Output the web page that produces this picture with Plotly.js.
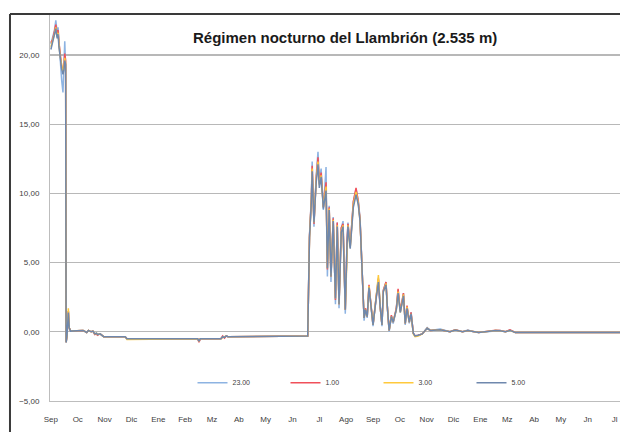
<!DOCTYPE html>
<html>
<head>
<meta charset="utf-8">
<script src="https://cdn.plot.ly/plotly-3.0.1.min.js"></script>
<style>html,body{margin:0;padding:0;background:#fff;}#chart{width:620px;height:432px;}</style>
</head>
<body>
<div id="chart"></div>
<script>
// Day index from 1 September (first season)
const days = [
  0, 2, 4, 5.5, 7, 8, 9, 10, 11, 12,
  13.5, 14.5, 15.5, 16.5, 17, 18, 19.5, 20.5, 22, 28,
  36, 40, 42, 45, 47, 49, 51, 52, 55, 59,
  83, 85, 164, 165.5, 167, 190, 192, 194, 196, 198,
  287, 289, 291, 292, 294, 296.5, 298.5, 300, 302, 304.5,
  307.5, 309, 311, 313, 315.5, 318, 320, 322, 324.5, 326.5,
  329, 331, 332, 334.5, 336.5, 338, 341, 343.5, 345.5, 349,
  350, 351.5, 353.5, 355.5, 358, 360, 363.5, 366, 368, 370,
  371.5, 374.5, 376, 378, 380.5, 382.5, 386, 388, 390.5, 392.5,
  394, 396, 398, 400.5, 402.5, 405, 407, 410.5, 415, 420.5,
  424, 435, 446, 452, 460, 466, 472, 478, 497, 502,
  508, 513, 519, 636
];

const t2300 = [
  20.8, 21.3, 21.8, 22.5, 21.6, 22.0, 20.8, 19.9, 19.2, 18.2,
  17.3, 19.5, 21.0, 19.0, -0.8, -0.4, 1.5, 0.3, 0.05, 0.08,
  0.1, -0.05, 0.1, 0.0, 0.05, -0.15, -0.1, -0.2, -0.15, -0.35,
  -0.35, -0.5, -0.5, -0.7, -0.5, -0.5, -0.35, -0.4, -0.3, -0.35,
  -0.3, 7.0, 9.6, 12.3, 7.6, 11.3, 13.0, 10.9, 11.8, 8.8,
  11.9, 4.0, 9.1, 3.6, 8.3, 2.0, 7.9, 1.7, 7.5, 8.0,
  1.3, 6.6, 7.9, 6.1, 8.3, 9.4, 10.3, 9.5, 8.2, 2.0,
  0.8, 1.6, 1.0, 3.3, 1.5, 0.4, 2.5, 3.9, 1.8, 0.4,
  3.0, 3.6, 1.8, 0.0, 1.1, 0.6, 1.6, 3.0, 1.4, 2.1,
  2.8, 0.5, 1.8, 0.6, 1.4, -0.1, -0.3, -0.25, -0.15, 0.3,
  0.1, 0.2, 0.0, 0.15, 0.0, 0.12, 0.0, -0.05, 0.1, 0.1,
  0.0, 0.12, -0.05, -0.05
];

const t0100 = [
  20.9, 21.1, 21.7, 22.2, 21.5, 21.8, 20.9, 20.3, 19.8, 19.2,
  18.9, 19.2, 20.1, 19.6, -0.75, -0.3, 1.5, 0.3, 0.05, 0.08,
  0.1, -0.05, 0.1, 0.0, 0.05, -0.2, -0.15, -0.25, -0.15, -0.35,
  -0.35, -0.5, -0.5, -0.75, -0.5, -0.5, -0.3, -0.45, -0.3, -0.35,
  -0.3, 6.9, 9.5, 12.0, 7.8, 11.1, 12.6, 10.7, 11.5, 9.0,
  10.8, 4.5, 9.0, 4.0, 8.2, 2.3, 7.9, 2.0, 7.5, 7.8,
  1.6, 6.6, 7.8, 6.2, 8.3, 9.4, 10.4, 9.4, 8.1, 2.2,
  1.0, 1.7, 1.1, 3.4, 1.6, 0.5, 2.5, 3.8, 1.8, 0.5,
  3.0, 3.6, 1.8, 0.1, 1.2, 0.7, 1.7, 3.1, 1.5, 2.1,
  2.8, 0.6, 1.9, 0.7, 1.4, -0.1, -0.3, -0.25, -0.15, 0.25,
  0.1, 0.15, 0.0, 0.15, 0.0, 0.1, 0.0, -0.05, 0.12, 0.1,
  0.0, 0.15, -0.05, -0.05
];

const t0300 = [
  20.6, 21.0, 21.5, 22.0, 21.3, 21.6, 20.7, 20.1, 19.7, 19.1,
  18.7, 19.0, 19.8, 19.4, -0.75, -0.3, 1.7, 0.3, 0.05, 0.08,
  0.1, -0.05, 0.1, 0.0, 0.05, -0.15, -0.1, -0.2, -0.15, -0.35,
  -0.35, -0.55, -0.5, -0.65, -0.5, -0.5, -0.4, -0.35, -0.3, -0.35,
  -0.3, 6.8, 9.4, 11.8, 7.9, 11.0, 12.3, 10.6, 11.3, 9.0,
  10.5, 4.6, 8.9, 4.0, 8.1, 2.4, 7.7, 2.0, 7.3, 7.7,
  1.6, 6.5, 7.7, 6.1, 8.1, 9.2, 10.1, 9.3, 8.0, 2.2,
  1.0, 1.6, 1.1, 3.3, 1.6, 0.5, 2.5, 4.1, 1.8, 0.5,
  2.9, 3.5, 1.8, 0.1, 1.1, 0.7, 1.6, 2.9, 1.4, 2.0,
  2.7, 0.6, 1.8, 0.7, 1.3, -0.15, -0.35, -0.3, -0.15, 0.25,
  0.1, 0.15, 0.0, 0.12, 0.0, 0.1, 0.0, -0.05, 0.1, 0.08,
  0.0, 0.1, -0.05, -0.05
];

const t0500 = [
  20.4, 20.9, 21.4, 21.9, 21.2, 21.5, 20.6, 20.0, 19.6, 19.0,
  18.6, 18.9, 19.6, 19.3, -0.75, -0.3, 1.4, 0.3, 0.05, 0.08,
  0.1, -0.05, 0.1, 0.0, 0.05, -0.15, -0.1, -0.2, -0.15, -0.35,
  -0.35, -0.5, -0.5, -0.65, -0.5, -0.5, -0.35, -0.4, -0.3, -0.35,
  -0.3, 6.8, 9.3, 11.6, 7.9, 10.8, 12.1, 10.4, 11.2, 8.9,
  10.2, 4.6, 8.8, 4.0, 8.0, 2.4, 7.6, 2.0, 7.2, 7.6,
  1.6, 6.4, 7.6, 6.0, 8.0, 9.0, 9.9, 9.2, 8.0, 2.2,
  1.0, 1.6, 1.1, 3.2, 1.6, 0.5, 2.4, 3.6, 1.8, 0.5,
  2.9, 3.4, 1.8, 0.1, 1.1, 0.7, 1.6, 2.8, 1.4, 2.0,
  2.6, 0.6, 1.7, 0.7, 1.3, -0.1, -0.3, -0.25, -0.15, 0.25,
  0.1, 0.15, 0.0, 0.12, 0.0, 0.1, 0.0, -0.05, 0.1, 0.08,
  0.0, 0.1, -0.05, -0.05
];

const seriesNames = ['23.00', '1.00', '3.00', '5.00'];
const seriesColors = ['#8DB3E2', '#F0505A', '#FFC93C', '#6F88AD'];
const seriesValues = [t2300, t0100, t0300, t0500];

const monthTickDays = [0, 30, 60, 90, 120, 150, 180, 210, 240, 270, 300,
  330, 360, 390, 420, 450, 480, 510, 540, 570, 600, 630];
const monthLabels = ['Sep', 'Oc', 'Nov', 'Dic', 'Ene', 'Feb', 'Mz', 'Ab', 'My', 'Jn', 'Jl',
  'Ago', 'Sep', 'Oc', 'Nov', 'Dic', 'Ene', 'Mz', 'Ab', 'My', 'Jn', 'Jl'];
const yTicks = [-5, 0, 5, 10, 15, 20];

const traces = seriesNames.map((n, i) => ({
  type: 'scatter', mode: 'lines', name: n,
  x: days, y: seriesValues[i],
  line: {color: seriesColors[i], width: 1.5}
}));

const tickFont = {family: 'Liberation Sans, Arial, sans-serif', size: 8, color: '#404040'};

const layout = {
  width: 620, height: 432,
  paper_bgcolor: '#ffffff', plot_bgcolor: '#ffffff',
  margin: {l: 50, r: 0, t: 15, b: 31, pad: 0, autoexpand: false},
  showlegend: true,
  legend: {
    orientation: 'h', x: 0.25, y: 0.085, xanchor: 'left', yanchor: 'top',
    font: {family: 'Liberation Sans, Arial, sans-serif', size: 7, color: '#404040'},
    entrywidth: 48, entrywidthmode: 'pixels', itemwidth: 30,
    bgcolor: 'rgba(0,0,0,0)'
  },
  xaxis: {
    range: [-1, 636], tickvals: monthTickDays, ticktext: monthLabels,
    showgrid: false, zeroline: false,
    showline: true, linecolor: '#bdbdbd', linewidth: 1,
    ticks: 'outside', ticklen: 10, tickcolor: 'rgba(0,0,0,0)',
    tickfont: tickFont, fixedrange: true
  },
  yaxis: {
    range: [-5, 22.89], tickvals: yTicks, tickformat: '.2f',
    showgrid: true, gridcolor: '#b8b8b8', gridwidth: 1.2,
    zeroline: false,
    showline: true, linecolor: '#bdbdbd', linewidth: 1,
    ticks: 'outside', ticklen: 8, tickcolor: 'rgba(0,0,0,0)',
    tickfont: tickFont, fixedrange: true
  },
  separators: ',.',
  annotations: [{
    text: 'Régimen nocturno del Llambrión (2.535 m)',
    xref: 'paper', yref: 'paper', x: 0.5175, y: 0.943,
    xanchor: 'center', yanchor: 'middle', showarrow: false,
    font: {family: 'Liberation Sans, Arial, sans-serif', size: 15, color: '#1a1a1a', weight: 'bold'}
  }],
  shapes: [
    {type: 'line', xref: 'paper', yref: 'paper', x0: -0.0702, x1: 1.01, y0: 1.0026, y1: 1.0026,
     line: {color: '#3a3a3a', width: 2}},
    {type: 'line', xref: 'paper', yref: 'paper', x0: -0.0702, x1: -0.0702, y0: 1.0026, y1: -0.09,
     line: {color: '#3a3a3a', width: 2}}
  ]
};

Plotly.newPlot('chart', traces, layout, {staticPlot: true, displayModeBar: false});
</script>
</body>
</html>
